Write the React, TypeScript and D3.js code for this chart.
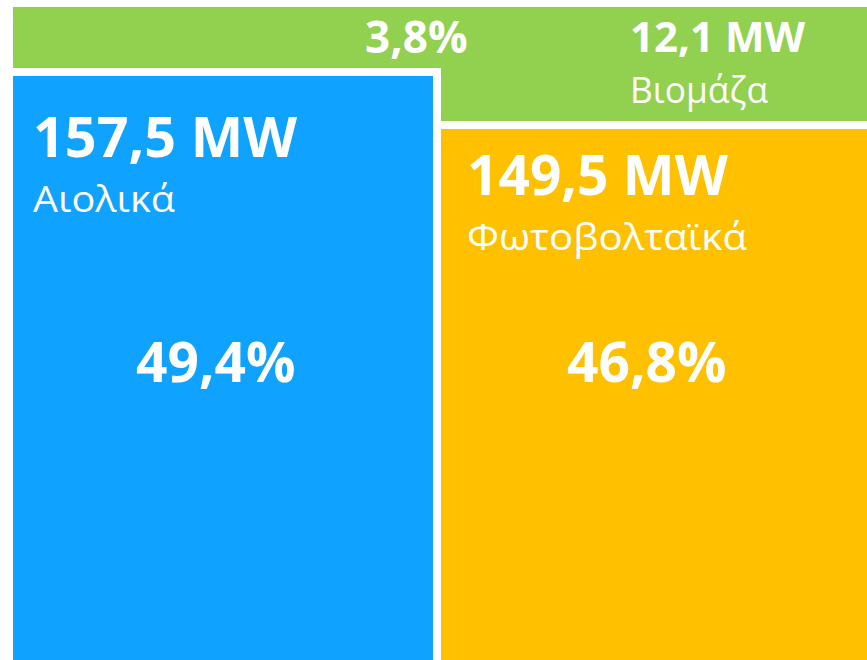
import React from "react";
import * as d3 from "d3";

// installed capacity by source (MW) and share of total (%)
const categories = ["Αιολικά", "Φωτοβολταϊκά", "Βιομάζα"];
const capacityMW = [157.5, 149.5, 12.1];
const sharePct = [49.4, 46.8, 3.8];
const colors = ["#0FA2FF", "#FFC000", "#92D050"];

const W = 867;
const H = 660;
const FONT = "'Open Sans', 'Noto Sans', sans-serif";

// greek style decimals: 157,5
const fmt = (v: number) => d3.format(".1f")(v).replace(".", ",");

// slide layout in page pixels
const x = d3.scaleLinear().domain([0, 1]).range([13, W]);
const gap = 8;
const splitX = 437; // centre of white gap between wind and solar
const greenTop = 7;
const greenBottom = 121;
const blueTop = 76;

const App = () => {
  const [wind, solar, bio] = [0, 1, 2];
  const left = x(0);
  const right = x(1);

  return (
    <svg
      width={W}
      height={H}
      style={{ position: "absolute", left: 0, top: 0, background: "#fff" }}
      fontFamily={FONT}
    >
      {/* biomass strip across the top */}
      <rect x={left} y={greenTop} width={right - left} height={greenBottom - greenTop} fill={colors[bio]} />
      {/* white frame of wind block over the strip */}
      <rect x={left} y={blueTop - gap} width={splitX + gap / 2 - left} height={H} fill="#fff" />
      <rect x={left} y={blueTop} width={splitX - gap / 2 - left} height={H - blueTop} fill={colors[wind]} />
      <rect
        x={splitX + gap / 2}
        y={greenBottom + gap}
        width={right - splitX - gap / 2}
        height={H - greenBottom - gap}
        fill={colors[solar]}
      />

      <g fill="#fff">
        <text x={33} y={157} fontSize={56} fontWeight={700} textLength={264} lengthAdjust="spacingAndGlyphs">
          {fmt(capacityMW[wind])} MW
        </text>
        <text x={33} y={212} fontSize={37} textLength={142} lengthAdjust="spacingAndGlyphs">
          {categories[wind]}
        </text>
        <text x={136} y={382} fontSize={55} fontWeight={700}>{fmt(sharePct[wind])}%</text>

        <text x={467} y={195} fontSize={55} fontWeight={700}>{fmt(capacityMW[solar])} MW</text>
        <text x={467} y={250} fontSize={37} textLength={280} lengthAdjust="spacingAndGlyphs">
          {categories[solar]}
        </text>
        <text x={567} y={382} fontSize={55} fontWeight={700}>{fmt(sharePct[solar])}%</text>

        <text x={365} y={53} fontSize={44} fontWeight={700}>{fmt(sharePct[bio])}%</text>
        <text x={630} y={52} fontSize={42} fontWeight={700}>{fmt(capacityMW[bio])} MW</text>
        <text x={630} y={103} fontSize={37} textLength={138} lengthAdjust="spacingAndGlyphs">
          {categories[bio]}
        </text>
      </g>
    </svg>
  );
};

export default App;
